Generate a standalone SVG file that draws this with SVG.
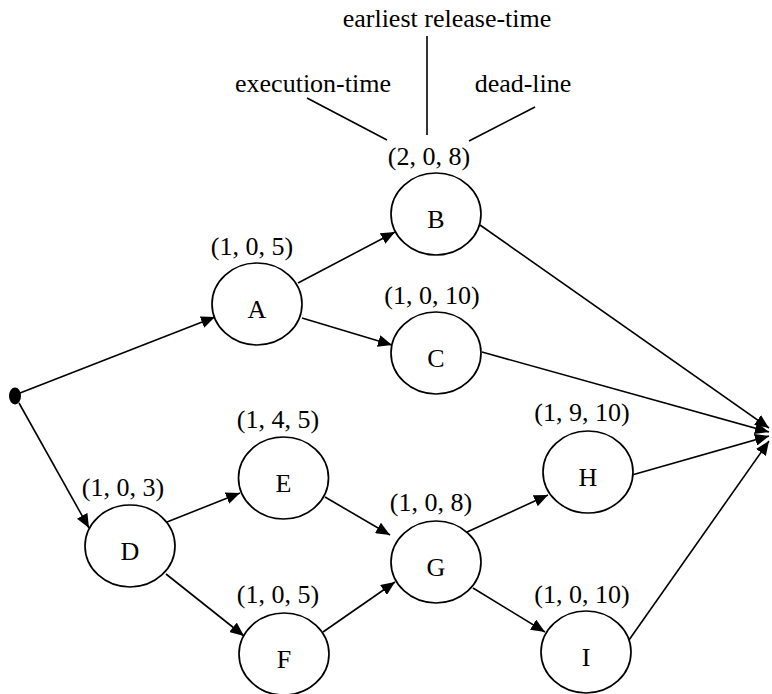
<svg xmlns="http://www.w3.org/2000/svg" width="772" height="694" viewBox="0 0 772 694">
<style>
.n{fill:#fff;stroke:#000;stroke-width:1.7}
text{font-family:"Liberation Serif","Times New Roman",serif;font-size:26px;fill:#000;text-anchor:middle}
.e{stroke:#000;stroke-width:1.6;fill:none}
</style>
<defs>
<marker id="ah" markerUnits="userSpaceOnUse" markerWidth="14" markerHeight="12" refX="14" refY="6" orient="auto">
<path d="M0,0 L14,6 L0,12 z" fill="#000"/>
</marker>
</defs>
<g id="legend">
<text x="447" y="27">earliest release-time</text>
<text x="313" y="92">execution-time</text>
<text x="523" y="92">dead-line</text>
<line class="e" x1="427" y1="36" x2="427" y2="135"/>
<line class="e" x1="307" y1="98" x2="387" y2="140"/>
<line class="e" x1="535" y1="107" x2="469" y2="141"/>
</g>
<g id="connectors">
<line class="e" x1="20" y1="393" x2="215" y2="317" marker-end="url(#ah)"/>
<line class="e" x1="19" y1="403" x2="89" y2="528" marker-end="url(#ah)"/>
<line class="e" x1="298" y1="283" x2="395" y2="232" marker-end="url(#ah)"/>
<line class="e" x1="302" y1="318" x2="392" y2="345" marker-end="url(#ah)"/>
<line class="e" x1="480" y1="225" x2="769" y2="428" marker-end="url(#ah)"/>
<line class="e" x1="482" y1="352" x2="769" y2="432" marker-end="url(#ah)"/>
<line class="e" x1="167" y1="522" x2="240" y2="493" marker-end="url(#ah)"/>
<line class="e" x1="166" y1="574" x2="244" y2="636" marker-end="url(#ah)"/>
<line class="e" x1="325" y1="497" x2="390" y2="535" marker-end="url(#ah)"/>
<line class="e" x1="323" y1="632" x2="395" y2="582" marker-end="url(#ah)"/>
<line class="e" x1="467" y1="532" x2="548" y2="495" marker-end="url(#ah)"/>
<line class="e" x1="473" y1="588" x2="545" y2="632" marker-end="url(#ah)"/>
<line class="e" x1="632" y1="475" x2="769" y2="436" marker-end="url(#ah)"/>
<line class="e" x1="629" y1="640" x2="769" y2="441" marker-end="url(#ah)"/>
</g>
<g id="start"><ellipse cx="15" cy="396" rx="6" ry="8.5" fill="#000"/></g>
<g id="A"><ellipse class="n" cx="257" cy="304" rx="45" ry="41"/><text x="257" y="318">A</text><text x="252" y="255">(1, 0, 5)</text></g>
<g id="B"><ellipse class="n" cx="436" cy="214" rx="45" ry="41"/><text x="436" y="228">B</text><text x="429" y="165">(2, 0, 8)</text></g>
<g id="C"><ellipse class="n" cx="436" cy="353" rx="45" ry="41"/><text x="436" y="367">C</text><text x="432" y="304">(1, 0, 10)</text></g>
<g id="D"><ellipse class="n" cx="130" cy="546" rx="45" ry="41"/><text x="130" y="560">D</text><text x="123" y="496">(1, 0, 3)</text></g>
<g id="E"><ellipse class="n" cx="283.5" cy="478" rx="45" ry="41"/><text x="283.5" y="492">E</text><text x="278" y="428">(1, 4, 5)</text></g>
<g id="F"><ellipse class="n" cx="284" cy="654" rx="45" ry="41"/><text x="284" y="668">F</text><text x="278" y="603">(1, 0, 5)</text></g>
<g id="G"><ellipse class="n" cx="436" cy="562" rx="45" ry="41"/><text x="436" y="576">G</text><text x="431" y="511">(1, 0, 8)</text></g>
<g id="H"><ellipse class="n" cx="588" cy="472" rx="45" ry="41"/><text x="588" y="486">H</text><text x="582" y="421">(1, 9, 10)</text></g>
<g id="I"><ellipse class="n" cx="586" cy="652" rx="45" ry="41"/><text x="586" y="666">I</text><text x="582" y="603">(1, 0, 10)</text></g>
</svg>
